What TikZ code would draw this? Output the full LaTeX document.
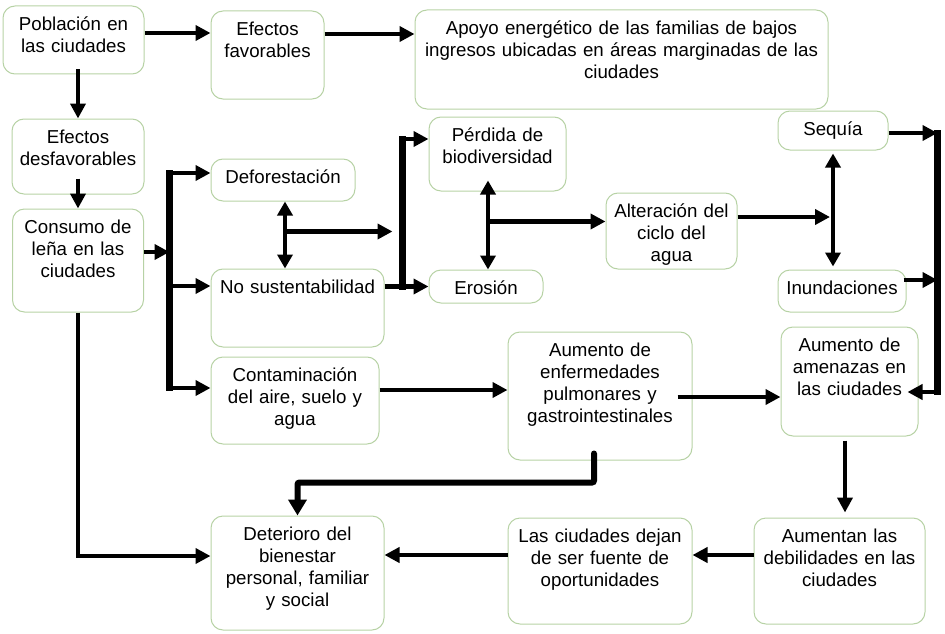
\documentclass[tikz,border=0pt]{standalone}
\usepackage{fontspec}
\setmainfont{Liberation Sans}
\usepackage{tikz}
\usetikzlibrary{arrows.meta}
\definecolor{boxgreen}{RGB}{183,210,165}

\begin{document}
\begin{tikzpicture}[x=1pt, y=-1pt, node distance=100pt, auto]

\tikzstyle{block} = [rectangle, draw=boxgreen, line width=1pt, rounded corners=12pt,
    align=center, inner xsep=3pt, inner ysep=8pt, text height=16.5pt,
    font=\fontsize{18.7pt}{22pt}\selectfont]
\tikzstyle{line} = [draw, -{Triangle[length=15pt,width=15pt]}, line width=4.2pt]
\tikzstyle{both} = [line, {Triangle[length=14pt,width=15pt]}-{Triangle[length=14pt,width=15pt]}]
\tikzstyle{bus} = [draw, line width=6.5pt, line cap=rect]

    \useasboundingbox (0,0) rectangle (945,634);
    % Place nodes
    \node [block, text width=135pt, text depth=35.5pt] (pob) at (73.5,40) {Población en\\las ciudades};
    \node [block, right of=pob, node distance=194pt, yshift=-15pt, text width=107pt, text depth=55.5pt] (fav) {Efectos\\favorables};
    \node [block, right of=fav, node distance=354pt, yshift=-4.5pt, text width=407pt, text depth=66.5pt] (apoyo) {Apoyo energético de las familias de bajos\\ingresos ubicadas en áreas marginadas de las\\ciudades};
    \node [block, below of=pob, node distance=116.5pt, xshift=4.5pt, text width=126pt, text depth=42.5pt] (desf) {Efectos\\desfavorables};
    \node [block, below of=desf, node distance=104pt, text width=125pt, text depth=70.5pt] (consumo) {Consumo de\\leña en las\\ciudades};
    \node [block, below of=fav, node distance=125pt, xshift=15.5pt, text width=138pt, text depth=9.5pt] (defor) {Deforestación};
    \node [block, below of=defor, node distance=128pt, xshift=14.5pt, text width=167pt, text depth=45.5pt] (nosust) {No sustentabilidad};
    \node [block, below of=nosust, node distance=92.5pt, xshift=-2.5pt, text width=162pt, text depth=54.5pt] (contam) {Contaminación\\del aire, suelo y\\agua};
    \node [block, below of=contam, node distance=172.5pt, xshift=2.5pt, text width=167pt, text depth=81.5pt] (deterioro) {Deterioro del\\bienestar\\personal, familiar\\y social};
    \node [block, right of=contam, node distance=305pt, yshift=4.5pt, text width=178pt, text depth=95.5pt] (aumenf) {Aumento de\\enfermedades\\pulmonares y\\gastrointestinales};
    \node [block, below of=aumenf, node distance=175pt, text width=178pt, text depth=73.5pt] (dejan) {Las ciudades dejan\\de ser fuente de\\oportunidades};
    \node [block, right of=dejan, node distance=239.5pt, text width=165pt, text depth=73.5pt] (debil) {Aumentan las\\debilidades en las\\ciudades};
    \node [block, above of=debil, node distance=189.5pt, xshift=10pt, text width=131pt, text depth=76.5pt] (amen) {Aumento de\\amenazas en\\las ciudades};
    \node [block, right of=defor, node distance=214.5pt, yshift=26pt, text width=131pt, text depth=41.5pt] (perdida) {Pérdida de\\biodiversidad};
    \node [block, below of=perdida, node distance=132.5pt, xshift=-11.5pt, text width=108pt, text depth=0.5pt] (erosion) {Erosión};
    \node [block, right of=erosion, node distance=185.5pt, yshift=55.5pt, text width=125pt, text depth=43.5pt] (alter) {Alteración del\\ciclo del\\agua};
    \node [block, right of=alter, node distance=161.5pt, yshift=100.5pt, text width=104pt, text depth=6.5pt] (sequia) {Sequía};
    \node [block, below of=sequia, node distance=160.5pt, xshift=9pt, text width=122pt, text depth=9.5pt] (inund) {Inundaciones};
    \coordinate (splitA) at ([xshift=-41pt,yshift=7pt]defor.west);
    \coordinate (splitB) at ([xshift=-26pt,yshift=15pt]perdida.west);
    \coordinate (joinC) at ([xshift=19pt,yshift=-10.5pt]amen.east);
    % Draw edges
    \path [line] ([yshift=7pt]pob.east) -- ([yshift=7pt]pob.east -| fav.west);
    \path [line] ([yshift=21pt]fav.east) -- ([yshift=21pt]fav.east -| apoyo.west);
    \path [line] ([yshift=5pt]desf.north |- pob.south) -- (desf.north);
    \path [line] ([yshift=16pt]desf.south) -- (desf.south |- consumo.north);
    \path [line] ([yshift=8.5pt]consumo.east) -- ([yshift=8.5pt]consumo.east -| splitA);
    \path [bus] (splitA) -- ([yshift=12.5pt]contam.west -| splitA);
    \path [line] (splitA) -- (splitA -| defor.west);
    \path [line] ([yshift=22pt]nosust.west -| splitA) -- ([yshift=22pt]nosust.west);
    \path [line] ([yshift=12.5pt]contam.west -| splitA) -- ([yshift=12.5pt]contam.west);
    \path [both] ([xshift=2pt]defor.south) -- ([xshift=2pt]defor.south |- nosust.north);
    \path [line] ([xshift=2pt,yshift=-30pt]defor.south) -- ([xshift=-10pt,yshift=-30pt]defor.south -| splitB);
    \path [draw, line width=4.2pt] (nosust.east |- erosion.west) -- (erosion.west -| splitB);
    \path [bus] (splitB) -- (erosion.west -| splitB);
    \path [line] (splitB) -- (splitB -| perdida.west);
    \path [line] (erosion.west -| splitB) -- (erosion.west);
    \path [both] ([xshift=2pt,yshift=11pt]erosion.north |- perdida.south) -- ([xshift=2pt]erosion.north);
    \path [line] ([xshift=2pt,yshift=-30pt]erosion.north |- perdida.south) -- ([yshift=-30pt]perdida.south -| alter.west);
    \path [line] ([yshift=14pt]alter.east) -- ([xshift=-3pt,yshift=14pt]alter.east -| sequia.south);
    \path [both] ([yshift=-3pt]sequia.south) -- ([yshift=3pt]sequia.south |- inund.north);
    \path [line] ([yshift=-2.5pt]sequia.east) -- ([yshift=-2.5pt]sequia.east -| joinC);
    \path [bus] (joinC) -- ([yshift=-2.5pt]sequia.east -| joinC);
    \path [line] ([xshift=-3pt,yshift=11pt]inund.east) -- ([yshift=11pt]inund.east -| joinC);
    \path [line] (joinC) -- ([xshift=-11pt,yshift=-10.5pt]amen.east);
    \path [line] ([yshift=10.5pt]contam.east) -- ([yshift=10.5pt]contam.east -| aumenf.west);
    \path [line] ([xshift=-15pt,yshift=-1pt]aumenf.east) -- ([yshift=-1pt]aumenf.east -| amen.west);
    \path [draw, -{Triangle[length=16pt,width=18pt]}, line width=6pt, line cap=round, rounded corners=2pt] ([xshift=-6pt,yshift=7pt]aumenf.south) |- ([yshift=33pt]deterioro.north) -- (deterioro.north);
    \path [line] (consumo.south) |- ([yshift=17pt]deterioro.west);
    \path [line] ([xshift=-4.5pt,yshift=-4pt]amen.south) -- ([xshift=-4.5pt,yshift=5pt]amen.south |- debil.north);
    \path [line] ([yshift=16pt]debil.west) -- ([yshift=16pt]debil.west -| dejan.east);
    \path [line] ([yshift=16pt]dejan.west) -- ([yshift=16pt]dejan.west -| deterioro.east);
\end{tikzpicture}
\end{document}
